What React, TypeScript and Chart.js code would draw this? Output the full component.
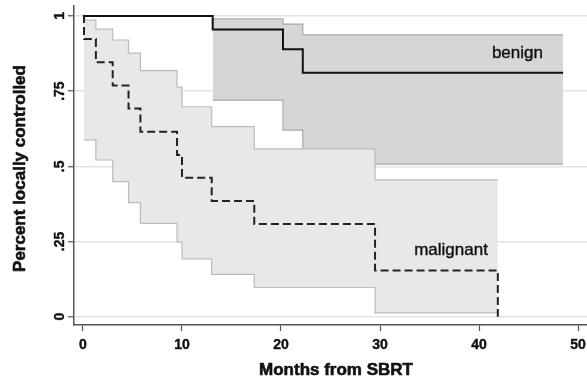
import React, { useEffect, useRef } from "react";
import { Chart, registerables } from "chart.js";

Chart.register(...registerables);

// ---- data ----
const xTicks = [0, 10, 20, 30, 40, 50];
const yTicks = [0, 0.25, 0.5, 0.75, 1];
const yTickLabels = ["0", ".25", ".5", ".75", "1"];

const groupNames = ["benign", "malignant"];

const benignTime = [0, 13.1, 20.2, 22.2, 48.5];
const benignSurv = [1, 0.955, 0.889, 0.811, 0.811];
const benignCiTime = [13.1, 20.2, 22.2, 48.5];
const benignUpper = [0.99, 0.973, 0.937, 0.937];
const benignLower = [0.72, 0.62, 0.507, 0.507];

const malignantTime = [0, 0.1, 1.3, 3.0, 4.6, 5.8, 9.5, 10.0, 13.0, 17.3, 29.5, 41.9];
const malignantSurv = [1, 0.923, 0.846, 0.769, 0.692, 0.615, 0.538, 0.462, 0.385, 0.308, 0.154, 0];
const malignantCiTime = [0.1, 1.3, 3.0, 4.6, 5.8, 9.5, 10.0, 13.0, 17.3, 29.5, 41.9];
const malignantUpper = [0.986, 0.956, 0.92, 0.876, 0.818, 0.763, 0.698, 0.632, 0.558, 0.455, 0.455];
const malignantLower = [0.588, 0.521, 0.449, 0.379, 0.31, 0.249, 0.192, 0.141, 0.097, 0.013, 0.013];

const xTitle = "Months from SBRT";
const yTitle = "Percent locally controlled";

const pts = (xs: number[], ys: number[]) => xs.map((x, i) => ({ x, y: ys[i] }));

const FONT = '"Liberation Sans", Arial, Helvetica, sans-serif';

function heavyText(ctx: CanvasRenderingContext2D, text: string, x: number, y: number, stroke: number) {
  if (stroke > 0) {
    ctx.lineWidth = stroke;
    ctx.strokeStyle = ctx.fillStyle as string;
    ctx.lineJoin = "round";
    ctx.strokeText(text, x, y);
  }
  ctx.fillText(text, x, y);
}

const textPlugin = {
  id: "textPlugin",
  afterDraw(chart: any) {
    const ctx = chart.ctx as CanvasRenderingContext2D;
    const xs = chart.scales.x;
    const ys = chart.scales.y;
    const area = chart.chartArea;
    ctx.save();
    ctx.fillStyle = "#111";
    ctx.textBaseline = "alphabetic";
    ctx.textAlign = "center";
    ctx.font = `bold 14px ${FONT}`;
    xTicks.forEach((v) => {
      heavyText(ctx, String(v), xs.getPixelForValue(v), area.bottom + 23.5, 0.4);
    });
    yTicks.forEach((v, i) => {
      ctx.save();
      ctx.translate(area.left - 10.5, ys.getPixelForValue(v));
      ctx.rotate(-Math.PI / 2);
      heavyText(ctx, yTickLabels[i], 0, 0, 0.4);
      ctx.restore();
    });
    ctx.font = `bold 17px ${FONT}`;
    heavyText(ctx, xTitle, 336, area.bottom + 50, 0.6);
    ctx.save();
    ctx.translate(25, 168.5);
    ctx.rotate(-Math.PI / 2);
    heavyText(ctx, yTitle, 0, 0, 0.6);
    ctx.restore();
    ctx.font = `17px ${FONT}`;
    ctx.textAlign = "right";
    heavyText(ctx, groupNames[0], xs.getPixelForValue(46.46), ys.getPixelForValue(0.859), 0.4);
    heavyText(ctx, groupNames[1], xs.getPixelForValue(40.9), ys.getPixelForValue(0.205), 0.4);
    ctx.restore();
  },
};

export default function App() {
  const ref = useRef<HTMLCanvasElement>(null);
  useEffect(() => {
    document.body.style.margin = "0";
    const chart = new Chart(ref.current as HTMLCanvasElement, {
      type: "line",
      data: {
        datasets: [
          {
            label: groupNames[0],
            data: pts(benignTime, benignSurv),
            borderColor: "#111",
            borderWidth: 2,
            stepped: "before",
            pointRadius: 0,
            fill: false,
          },
          {
            label: groupNames[1],
            data: pts(malignantTime, malignantSurv),
            borderColor: "#222",
            borderWidth: 2,
            borderDash: [8, 4],
            stepped: "before",
            pointRadius: 0,
            fill: false,
          },
          {
            label: "malignant upper",
            data: pts(malignantCiTime, malignantUpper),
            borderColor: "#bcbcbc",
            borderWidth: 1.2,
            stepped: "before",
            pointRadius: 0,
            fill: false,
          },
          {
            label: "malignant lower",
            data: pts(malignantCiTime, malignantLower),
            borderColor: "#bcbcbc",
            borderWidth: 1.2,
            stepped: "before",
            pointRadius: 0,
            fill: 2,
            backgroundColor: "#e8e8e8",
          },
          {
            label: "benign upper",
            data: pts(benignCiTime, benignUpper),
            borderColor: "#a9a9a9",
            borderWidth: 1.2,
            stepped: "before",
            pointRadius: 0,
            fill: false,
          },
          {
            label: "benign lower",
            data: pts(benignCiTime, benignLower),
            borderColor: "#a9a9a9",
            borderWidth: 1.2,
            stepped: "before",
            pointRadius: 0,
            fill: 4,
            backgroundColor: "#d6d6d6",
          },
        ],
      },
      options: {
        responsive: false,
        animation: false,
        layout: { padding: { top: 6, left: 0, right: 0, bottom: 0 } },
        plugins: {
          legend: { display: false },
          tooltip: { enabled: false },
        },
        scales: {
          x: {
            type: "linear",
            min: -0.909,
            max: 50.909,
            afterBuildTicks: (s: any) => {
              s.ticks = xTicks.map((v) => ({ value: v }));
            },
            afterFit: (s: any) => {
              s.height = 52;
            },
            ticks: { display: false },
            grid: {
              drawOnChartArea: false,
              drawTicks: true,
              tickLength: 6,
              tickColor: "#555",
              tickWidth: 1.2,
            },
            border: { display: true, color: "#555", width: 1.5 },
          },
          y: {
            type: "linear",
            min: -0.0276,
            max: 1.033,
            afterBuildTicks: (s: any) => {
              s.ticks = yTicks.map((v) => ({ value: v }));
            },
            afterFit: (s: any) => {
              s.width = 74;
            },
            ticks: { display: false },
            grid: {
              color: "#e3e3e3",
              lineWidth: 1.5,
              drawTicks: true,
              tickLength: 6,
              tickColor: "#555",
              tickWidth: 1.2,
            },
            border: { display: true, color: "#555", width: 1.5 },
          },
        },
      },
      plugins: [textPlugin],
    } as any);
    return () => chart.destroy();
  }, []);
  return (
    <div style={{ width: 587, height: 377 }}>
      <canvas ref={ref} width={587} height={377} style={{ display: "block" }} />
    </div>
  );
}
